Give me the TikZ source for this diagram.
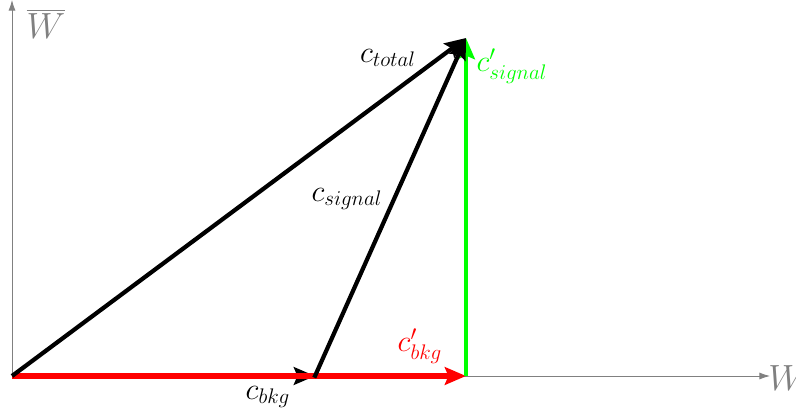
\documentclass[tikz,border=0pt]{standalone}
\usetikzlibrary{arrows.meta}
\begin{document}
\begin{tikzpicture}[x=0.02cm,y=-0.02cm,
  axis/.style={draw=gray,line width=0.5pt,-{Latex[length=6pt,width=4pt]}},
  vec/.style={line width=2.4pt,-{Stealth[length=12pt,width=10pt,inset=2pt]}},
  lbl/.style={font=\fontsize{18.5}{22}\selectfont},
  axlbl/.style={font=\huge,text=gray}]
\useasboundingbox (0,0) rectangle (796,419);
\coordinate (O) at (12,376);
\coordinate (B) at (315,376);
\coordinate (T) at (466,38);
\coordinate (R) at (466,376);
\coordinate (X) at (770,376);
\coordinate (Y) at (12,0);
\draw[axis] (O) -- (X);
\draw[axis] (O) -- (Y);
\node[axlbl,anchor=west,inner sep=0pt] (xl) at (768,378) {$W$};
\node[axlbl,inner sep=0pt] (yl) at (46,24) {$\overline{W}$};
\draw[vec,black] (O) -- (B);
\draw[vec,red,line width=3pt] (O) -- (R);
\draw[vec,green,line width=2.6pt] (R) -- (T);
\draw[vec,black] (O) -- (T);
\draw[vec,black,shorten <=-1pt] (B) -- (T);
\node[lbl] (ct) at (388,58) {$c_{total}$};
\node[lbl,text=green] (cs2) at (512,66) {$c'_{signal}$};
\node[lbl] (cs) at (347,199) {$c_{signal}$};
\node[lbl,text=red] (cb2) at (420,346) {$c'_{bkg}$};
\node[lbl] (cb) at (268,397) {$c_{bkg}$};
\end{tikzpicture}
\end{document}
